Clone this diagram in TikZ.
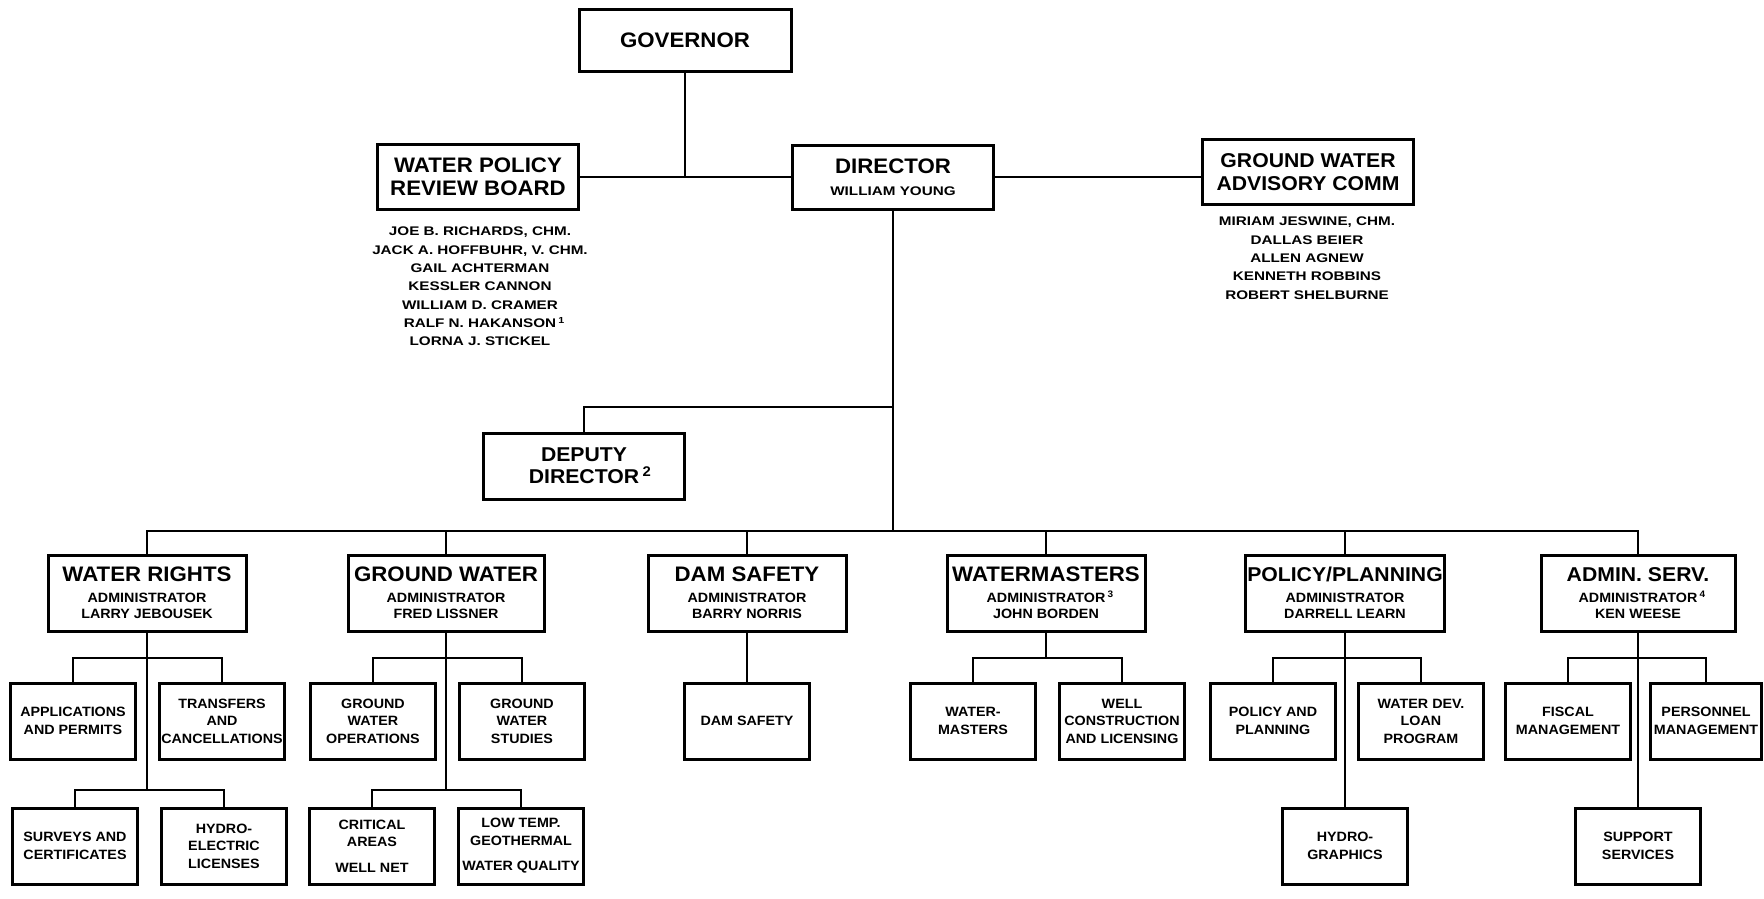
\documentclass[tikz,border=0pt]{standalone}
\usepackage{fontspec}
\setmainfont{Liberation Sans}
\newfontfamily\ttlfont[FakeStretch=1.06]{Liberation Sans}
\newfontfamily\widefont[FakeStretch=1.22]{Liberation Sans}
\newcommand{\govtxt}{\ttlfont\bfseries\fontsize{21}{23}\selectfont}
\newcommand{\bigtxt}{\ttlfont\bfseries\fontsize{21}{23}\selectfont}
\newcommand{\lowtxt}{\ttlfont\bfseries\fontsize{20}{23}\selectfont}
\newcommand{\midtxt}{\ttlfont\bfseries\fontsize{13.5}{16}\selectfont}
\newcommand{\boxtxt}{\ttlfont\bfseries\fontsize{13.5}{17.5}\selectfont}
\newcommand{\lsttxt}{\widefont\bfseries\fontsize{12.5}{18.3}\selectfont}

\tikzset{%
  every node/.style={
    inner sep=2pt
  },
  box/.style={draw, line width=3pt, align=center},
  head/.style={box, font=\bigtxt, minimum width=201pt, minimum height=65pt},
  unit/.style={box, font=\midtxt, minimum width=198pt, minimum height=76pt},
  sub/.style={box, font=\boxtxt, inner sep=1pt, minimum width=125pt, minimum height=76pt},
  names/.style={align=center, font=\lsttxt, inner sep=0pt, anchor=north},
  link/.style={line width=2.4pt}
}

\begin{document}
\begin{tikzpicture}[x=1pt, y=-1pt]
      \fill[white] (0,0) rectangle (1764,898);
      \useasboundingbox (0,0) rectangle (1764,898);
      \node[head, font=\govtxt, minimum width=212pt, minimum height=62pt] at (685,40) (gov) {GOVERNOR};
      \node[head] at (478,177) (wprb) {WATER POLICY\\REVIEW BOARD};
      \node[head, font=\lsttxt, minimum height=64pt] at (893,177) (dir) {{\govtxt DIRECTOR}\\[4pt]WILLIAM YOUNG};
      \node[head, font=\lowtxt, minimum width=211pt] at (1308,172) (gwac) {GROUND WATER\\ADVISORY COMM};
      \node[names] at (480,227) (wprbm) {JOE B. RICHARDS, CHM.\\JACK A. HOFFBUHR, V. CHM.\\GAIL ACHTERMAN\\KESSLER CANNON\\WILLIAM D. CRAMER\\RALF N. HAKANSON\rlap{\,\textsuperscript{1}}\\LORNA J. STICKEL};
      \node[names] at (1307,217) (gwacm) {MIRIAM JESWINE, CHM.\\DALLAS BEIER\\ALLEN AGNEW\\KENNETH ROBBINS\\ROBERT SHELBURNE};
      \node[head, font=\ttlfont\bfseries\fontsize{20}{22}\selectfont, minimum height=66pt] at (584,466) (dep) {DEPUTY\\DIRECTOR\rlap{\,\textsuperscript{2}}};
      \coordinate (depj) at (893,407);
      \coordinate (bus) at (893,531);
      \node[unit] at (147,593) (wr) {{\bigtxt WATER RIGHTS}\\[5pt]ADMINISTRATOR\\LARRY JEBOUSEK};
      \node[unit, minimum width=196pt] at (446,593) (gw) {{\bigtxt GROUND WATER}\\[5pt]ADMINISTRATOR\\FRED LISSNER};
      \node[unit] at (747,593) (dam) {{\bigtxt DAM SAFETY}\\[5pt]ADMINISTRATOR\\BARRY NORRIS};
      \node[unit] at (1046,593) (wm) {{\bigtxt WATERMASTERS}\\[5pt]ADMINISTRATOR\rlap{\,\textsuperscript{3}}\\JOHN BORDEN};
      \node[unit] at (1345,593) (pp) {{\lowtxt POLICY/PLANNING}\\[5pt]ADMINISTRATOR\\DARRELL LEARN};
      \node[unit, minimum width=194pt] at (1638,593) (adm) {{\lowtxt ADMIN. SERV.}\\[5pt]ADMINISTRATOR\rlap{\,\textsuperscript{4}}\\KEN WEESE};
      \coordinate (wrj) at (147,658);
      \coordinate (wrk) at (147,790);
      \coordinate (gwj) at (446,658);
      \coordinate (gwk) at (446,790);
      \coordinate (wmj) at (1046,658);
      \coordinate (ppj) at (1345,658);
      \coordinate (admj) at (1638,658);
      \node[sub] at (73,721) (apps) {APPLICATIONS\\AND PERMITS};
      \node[sub] at (222,721) (trans) {TRANSFERS\\AND\\CANCELLATIONS};
      \node[sub] at (75,846) (surv) {SURVEYS AND\\CERTIFICATES};
      \node[sub] at (224,846) (hydro) {HYDRO-\\ELECTRIC\\LICENSES};
      \node[sub] at (373,721) (ops) {GROUND\\WATER\\OPERATIONS};
      \node[sub] at (522,721) (stud) {GROUND\\WATER\\STUDIES};
      \node[sub] at (372,846) (crit) {CRITICAL\\AREAS\\[8pt]WELL NET};
      \node[sub] at (521,846) (low) {LOW TEMP.\\GEOTHERMAL\\[8pt]WATER QUALITY};
      \node[sub] at (747,721) (damc) {DAM SAFETY};
      \node[sub] at (973,721) (wmc) {WATER-\\MASTERS};
      \node[sub] at (1122,721) (well) {WELL\\CONSTRUCTION\\AND LICENSING};
      \node[sub] at (1273,721) (pol) {POLICY AND\\PLANNING};
      \node[sub] at (1421,721) (loan) {WATER DEV.\\LOAN\\PROGRAM};
      \node[sub] at (1345,846) (hyd) {HYDRO-\\GRAPHICS};
      \node[sub] at (1568,721) (fis) {FISCAL\\MANAGEMENT};
      \node[sub, minimum width=111pt] at (1706,721) (per) {PERSONNEL\\MANAGEMENT};
      \node[sub] at (1638,846) (sup) {SUPPORT\\SERVICES};
      \draw[link] (gov.south) -- (gov.south |- wprb.east);
      \draw[link] (wprb.east) -- (dir.west);
      \draw[link] (dir.east) -- (dir.east -| gwac.west);
      \draw[link] (dir.south) -- (bus);
      \draw[link] (depj) -| (dep.north);
      \draw[link] (wr.north) |- (bus) -| (adm.north);
      \draw[link] (gw.north) -- (gw.north |- bus);
      \draw[link] (dam.north) -- (dam.north |- bus);
      \draw[link] (wm.north) -- (wm.north |- bus);
      \draw[link] (pp.north) -- (pp.north |- bus);
      \draw[link] (wr.south) -- (wrk);
      \draw[link] (apps.north) |- (wrj) -| (trans.north);
      \draw[link] (surv.north) |- (wrk) -| (hydro.north);
      \draw[link] (gw.south) -- (gwk);
      \draw[link] (ops.north) |- (gwj) -| (stud.north);
      \draw[link] (crit.north) |- (gwk) -| (low.north);
      \draw[link] (dam.south) -- (damc.north);
      \draw[link] (wm.south) -- (wmj);
      \draw[link] (wmc.north) |- (wmj) -| (well.north);
      \draw[link] (pp.south) -- (hyd.north);
      \draw[link] (pol.north) |- (ppj) -| (loan.north);
      \draw[link] (adm.south) -- (sup.north);
      \draw[link] (fis.north) |- (admj) -| (per.north);
    \end{tikzpicture}
\end{document}
